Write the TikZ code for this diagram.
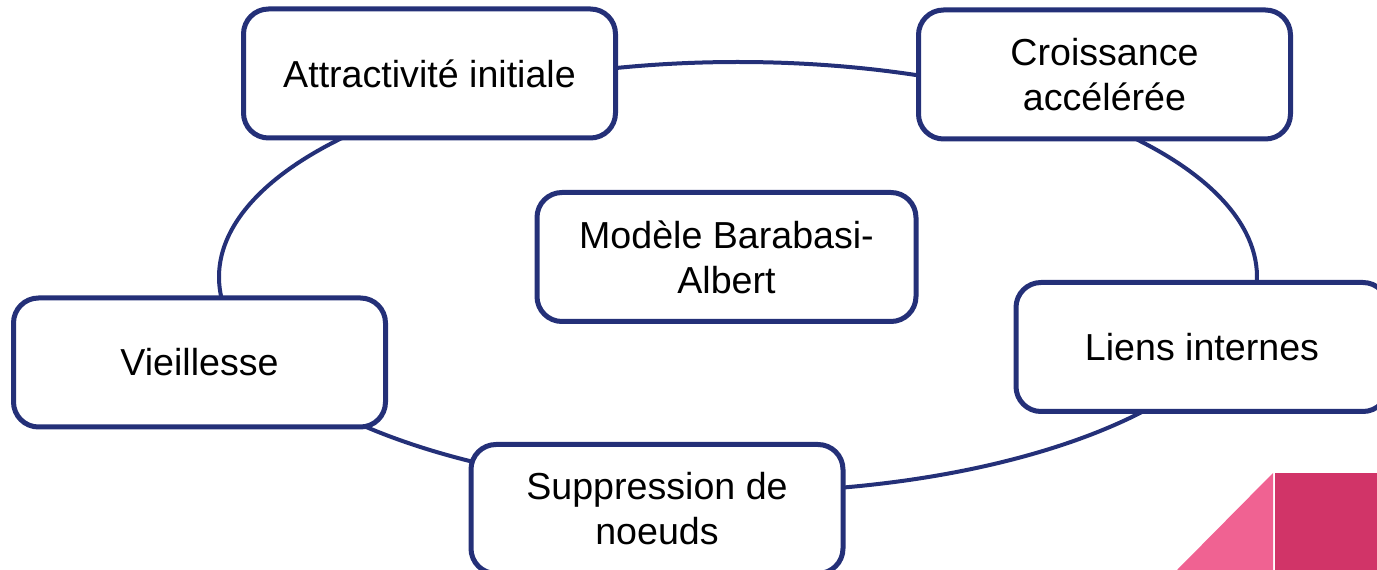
\documentclass[tikz,border=0pt]{standalone}
\usepackage{fontspec}
\setmainfont{Liberation Sans}
\usetikzlibrary{backgrounds,calc}
\definecolor{navy}{RGB}{36,48,120}
\definecolor{pinkL}{RGB}{240,98,146}
\definecolor{pinkD}{RGB}{209,52,104}
\begin{document}
\begin{tikzpicture}[x=1pt,y=1pt,
  box/.style={draw=navy, line width=5pt, rounded corners=25pt, fill=white,
    minimum width=372pt, minimum height=129pt, align=center, inner sep=0pt,
    font=\fontsize{37.6}{45}\selectfont},
  conn/.style={draw=navy, line width=4pt}]
\useasboundingbox (0,0) rectangle (1377,570);
% decorative corner
\fill[pinkL] (1177,0) -- (1273,97) -- (1273,0) -- cycle;
\fill[pinkD] (1275,0) rectangle (1377,97);
% nodes
\node[box] (att) at (429.5,496.5) {Attractivité initiale};
\node[box] (cro) at (1104.5,495.5) {Croissance\\accélérée};
\node[box, minimum width=379pt] (mod) at (726.5,313) {Modèle Barabasi-\\Albert};
\node[box] (vie) at (199.5,207.5) {Vieillesse};
\node[box] (lie) at (1202,223) {Liens internes};
\node[box] (sup) at (657,61) {Suppression de\\noeuds};
% connectors: arcs of one ellipse through the boxes
\coordinate (O) at (738,293);
\begin{scope}[on background layer]
\coordinate (a1) at ($(O)+(107:519 and 215)$);
\coordinate (a2) at ($(O)+(42:519 and 215)$);
\coordinate (a3) at ($(O)+(-36:519 and 215)$);
\coordinate (a4) at ($(O)+(-118:519 and 215)$);
\coordinate (a5) at ($(O)+(-172:519 and 215)$);
\draw[conn] (a1) arc[start angle=107, end angle=67, x radius=519, y radius=215];
\draw[conn] (a2) arc[start angle=42, end angle=-4, x radius=519, y radius=215];
\draw[conn] (a3) arc[start angle=-36, end angle=-81, x radius=519, y radius=215];
\draw[conn] (a4) arc[start angle=-118, end angle=-138, x radius=519, y radius=215];
\draw[conn] (a5) arc[start angle=-172, end angle=-223, x radius=519, y radius=215];
\end{scope}
\end{tikzpicture}
\end{document}
